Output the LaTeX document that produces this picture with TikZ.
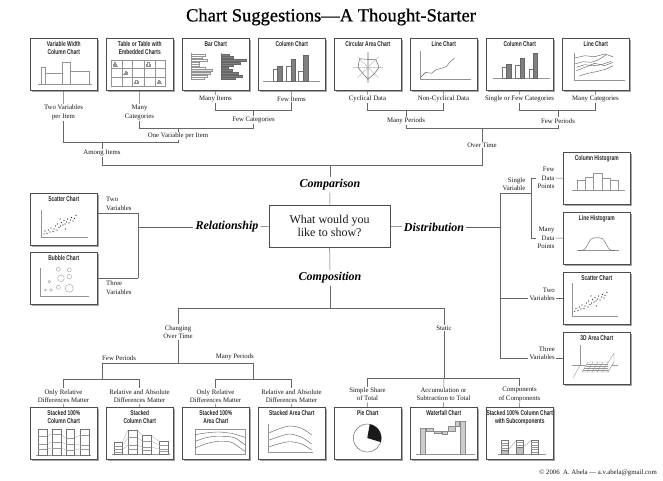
\documentclass[tikz,border=0pt]{standalone}
\usepackage{fontspec}
\setmainfont{Liberation Serif}
\newfontfamily\boxfont{Liberation Sans}[FakeStretch=0.7]
\newfontfamily\titlefont{Liberation Serif}[FakeBold=0.7]
\usetikzlibrary{calc,shadows}
\tikzset{
 chartbox/.style={draw=black!70, line width=0.6pt, fill=white, minimum width=67pt, minimum height=52pt, inner sep=0pt, anchor=north west,
   drop shadow={shadow xshift=1.8pt, shadow yshift=-1.8pt, fill=black!35, opacity=1}},
 boxtitle/.style={font=\boxfont\bfseries\fontsize{7}{7.4}\selectfont, align=center, anchor=north, inner sep=0pt, text=black!85},
 lbl/.style={font=\fontsize{6.8}{8.3}\selectfont, align=center, inner sep=1pt, text=black!90},
 big/.style={font=\bfseries\itshape\fontsize{12}{14}\selectfont, inner sep=2pt, text=black},
 qbox/.style={draw=black!70, line width=0.6pt, fill=white, minimum width=121pt, minimum height=42pt, align=center, font=\fontsize{12}{13}\selectfont, text=black!90},
 conn/.style={draw=black!60, line width=0.5pt},
 mini/.style={draw=black!42, line width=0.35pt},
 minidk/.style={draw=black!65, line width=0.4pt},
 gbar/.style={fill=black!50, draw=black!60, line width=0.3pt},
 wbar/.style={fill=white, draw=black!55, line width=0.3pt},
 dot/.style={fill=black!85},
}
\newcommand\cbox[4]{\node[chartbox] (#1) at (#2,#3) {};
  \node[boxtitle] (#1t) at ($(#1.north)+(0,3.5)$) {#4};}
\begin{document}
\begin{tikzpicture}[x=1pt,y=-1pt]
\fill[white] (0,0) rectangle (663,480);
\useasboundingbox (0,0) rectangle (663,480);

\node[font=\titlefont\fontsize{18.5}{20}\selectfont, text=black] (title) at (331,17) {Chart Suggestions—A Thought-Starter};

% ---------- top row boxes
\cbox{t1}{30}{38}{Variable Width\\Column Chart}
\cbox{t2}{106}{38}{Table or Table with\\Embedded Charts}
\cbox{t3}{182}{38}{Bar Chart}
\cbox{t4}{258}{38}{Column Chart}
\cbox{t5}{334}{38}{Circular Area Chart}
\cbox{t6}{410}{38}{Line Chart}
\cbox{t7}{486}{38}{Column Chart}
\cbox{t8}{562}{38}{Line Chart}

% t1 variable width
\begin{scope}[shift={(t1.north west)}]
\draw[mini] (8,46) -- (62,46);
\draw[mini] (10.7,46) rectangle (15,29);
\draw[mini] (15,46) rectangle (31.7,35);
\draw[mini] (31.7,46) rectangle (40,24);
\draw[mini] (40,46) rectangle (59,33);
\end{scope}
% t2 table
\begin{scope}[shift={(t2.north west)}]
\draw[mini] (5,22) rectangle (59,48.3);
\foreach \xx in {15.7,26.3,38.3,49} \draw[mini] (\xx,22) -- (\xx,48.3);
\foreach \yy in {30.3,39.3} \draw[mini] (5,\yy) -- (59,\yy);
\foreach \cx/\cy in {5/22, 15.7/30.3, 38.3/22, 26.3/39.3, 49/39.3}{
  \draw[mini] ({\cx+1.5},{\cy+6.3}) -- ({\cx+6.5},{\cy+6.3});
  \draw[mini] ({\cx+2.2},{\cy+6.3}) rectangle ({\cx+3.3},{\cy+4.6});
  \draw[mini] ({\cx+3.3},{\cy+6.3}) rectangle ({\cx+4.5},{\cy+2.6});
  \draw[mini] ({\cx+4.5},{\cy+6.3}) rectangle ({\cx+5.6},{\cy+3.9});
}
\end{scope}
% t3 bar chart
\begin{scope}[shift={(t3.north west)}]
\draw[mini] (9,15) -- (9,42);
\foreach \i/\l in {0/14.3,1/11,2/16,3/7.7,4/7.7,5/14.3,8/16,9/12.7}
  \draw[mini] (9,{16+\i*2.6}) rectangle ({9+\l},{17.9+\i*2.6});
\foreach \i/\l in {6/21,7/19.3}
  \draw[mini, fill=black!12] (9,{16+\i*2.6}) rectangle ({9+\l},{17.9+\i*2.6});
\draw[mini] (38.7,15) -- (38.7,42);
\foreach \i/\l in {0/8.3,1/12.7,2/25,3/19.3,4/12.7,5/7.7,6/11,7/17.7,8/21,9/14.3}
  \draw[gbar] (38.7,{16+\i*2.6}) rectangle ({38.7+\l},{17.9+\i*2.6});
\end{scope}
% t4 column chart
\begin{scope}[shift={(t4.north west)}]
\draw[mini] (5,42.7) -- (62,42.7);
\draw[wbar] (14.7,42.7) rectangle (19.3,31);
\draw[gbar] (19.3,42.7) rectangle (23.7,28.3);
\draw[wbar] (27.7,42.7) rectangle (32.7,28.3);
\draw[gbar] (32.7,42.7) rectangle (37,21);
\draw[wbar] (40.3,42.7) rectangle (45.3,32.7);
\draw[gbar] (45.3,42.7) rectangle (50.3,17);
\end{scope}
% t5 circular area
\begin{scope}[shift={(t5.north west)}]
\begin{scope}[shift={(34,29.3)}]
\draw[draw=black!20, line width=1.1pt] (-15,0) -- (15,0) (0,-15) -- (0,16);
\foreach \a in {45,135,225,315} \draw[draw=black!35, line width=0.35pt] (0,0) -- (\a:15);
\draw[draw=black!65, line width=0.45pt] (0:11) -- (45:9) -- (90:12) -- (135:8) -- (180:10) -- (225:12) -- (270:8) -- (315:11) -- cycle;
\end{scope}
\end{scope}
% t6 line chart
\begin{scope}[shift={(t6.north west)}]
\draw[mini] (9.7,12.7) -- (9.7,41) -- (61,41);
\draw[minidk] (11.3,38.7) -- (15.7,34.3) -- (21.3,35.3) -- (26.3,31.7) -- (31.3,30.3) -- (36.3,28.7) -- (39.7,24.3) -- (44.7,20);
\end{scope}
% t7 column chart
\begin{scope}[shift={(t7.north west)}]
\draw[mini] (7,40.3) -- (63.7,40.3);
\draw[wbar] (16,40.3) rectangle (20.3,29.3);
\draw[gbar] (20.3,40.3) rectangle (24.7,26);
\draw[wbar] (29.3,40.3) rectangle (33.7,26.7);
\draw[gbar] (33.7,40.3) rectangle (38,20);
\draw[wbar] (42.7,40.3) rectangle (47,31);
\draw[gbar] (47,40.3) rectangle (51.3,15.3);
\end{scope}
% t8 line chart many
\begin{scope}[shift={(t8.north west)}]
\draw[mini] (11.7,15) -- (11.7,42) -- (62.7,42);
\draw[minidk] (12.7,20) -- (22.7,17.7) -- (32.7,18.7) -- (42.7,16) -- (51,18.7);
\draw[minidk] (12.7,26) -- (21,23.7) -- (29.3,24.3) -- (36,22) -- (44.3,16.7);
\draw[minidk] (14.3,29.3) -- (22.7,26.7) -- (32.7,27.7) -- (39.3,26.7) -- (49.3,23.3);
\draw[minidk] (14.3,32.7) -- (24.3,28.7) -- (32.7,25.3) -- (42.7,27.7) -- (51,24.3);
\draw[minidk] (17.7,37.7) -- (26,35.3) -- (36,33.3) -- (44.3,31) -- (51,27.7);
\end{scope}

% ---------- top labels and connectors
\node[lbl] (L1) at (63.5,112.5) {Two Variables\\per Item};
\node[lbl] (L2) at (139.5,112.5) {Many\\Categories};
\node[lbl] (L3) at (215.5,99) {Many Items};
\node[lbl] (L4) at (291.5,99) {Few Items};
\node[lbl] (L5) at (253.5,120) {Few Categories};
\node[lbl] (L6) at (178,136) {One Variable per Item};
\node[lbl] (L7) at (102,153) {Among Items};
\node[lbl] (L8) at (367.5,99) {Cyclical Data};
\node[lbl] (L9) at (443.5,99) {Non-Cyclical Data};
\node[lbl] (L10) at (406,121) {Many Periods};
\node[lbl] (L11) at (519.5,99) {Single or Few Categories};
\node[lbl] (L12) at (595.5,99) {Many Categories};
\node[lbl] (L13) at (558,121) {Few Periods};
\node[lbl] (L14) at (482,145) {Over Time};

\coordinate (j1) at (63.5,142); \coordinate (j6) at (178,142); \coordinate (ja) at (102,142);
\coordinate (j5a) at (139.5,128); \coordinate (j5b) at (253.5,128); \coordinate (j5m) at (178,128);
\coordinate (j3) at (215.5,110); \coordinate (j4) at (291.5,110); \coordinate (j34) at (253.5,110);
\coordinate (j8) at (367.5,110); \coordinate (j9) at (443.5,110); \coordinate (j89) at (406,110);
\coordinate (j11) at (519.5,110); \coordinate (j12) at (595.5,110); \coordinate (j1112) at (558,110);
\coordinate (jm) at (406,128); \coordinate (jf) at (558,128); \coordinate (jo) at (482,128);
\coordinate (h1) at (102,165); \coordinate (h2) at (482,165); \coordinate (hc) at (330,165);

\draw[conn] (t1) -- (L1); \draw[conn] (t2) -- (L2); \draw[conn] (t3) -- (L3); \draw[conn] (t4) -- (L4);
\draw[conn] (t5) -- (L8); \draw[conn] (t6) -- (L9); \draw[conn] (t7) -- (L11); \draw[conn] (t8) -- (L12);
\draw[conn] (L3) -- (j3) -- (j4) -- (L4);
\draw[conn] (j34) -- (L5);
\draw[conn] (L5) -- (j5b) -- (j5a) -- (L2);
\draw[conn] (j5m) -- (L6);
\draw[conn] (L6) -- (j6) -- (j1) -- (L1);
\draw[conn] (ja) -- (L7);
\draw[conn] (L7) -- (h1) -- (h2) -- (L14);
\draw[conn] (L8) -- (j8) -- (j9) -- (L9);
\draw[conn] (j89) -- (L10);
\draw[conn] (L11) -- (j11) -- (j12) -- (L12);
\draw[conn] (j1112) -- (L13);
\draw[conn] (L10) -- (jm) -- (jf) -- (L13);
\draw[conn] (jo) -- (L14);

% ---------- centre
\node[qbox] (q) at (329.5,226) {What would you\\like to show?};
\node[big] (comp) at (330,185) {Comparison};
\node[big] (rel) at (227,227) {Relationship};
\node[big] (dist) at (434,227) {Distribution};
\node[big] (comp2) at (330,278) {Composition};
\draw[conn] (hc) -- (comp);
\draw[conn] (comp) -- (q);
\draw[conn] (q) -- (rel);
\draw[conn] (q) -- (dist);
\draw[conn] (q) -- (comp2);

% ---------- relationship
\cbox{sc}{30}{193}{Scatter Chart}
\cbox{bb}{30}{252}{Bubble Chart}
\begin{scope}[shift={(sc.north west)}]
\draw[mini] (11,16.7) -- (11,44.3) -- (57.7,44.3);
\foreach \p in {(14,41),(15,38),(17,40.5),(18.5,37),(20,39),(21,35),(23,38.5),(24,36),(25.5,33),(27,37),(27.5,31),(29,34.5),(30.5,33),(31.5,29.5),(33,32),(34,27.5),(35,31),(36.5,29),(37.5,26),(39,30),(40.5,27),(41.5,24.5),(43,28),(44.5,25.5),(46,22.5),(30,26),(35.5,36)}
  \fill[dot] \p circle (0.55pt);
\end{scope}
\begin{scope}[shift={(bb.north west)}]
\draw[mini] (10.3,16.3) -- (10.3,43.7) -- (59.3,43.7);
\draw[mini] (28.3,17.3) circle (2pt) (39.3,18) circle (2pt) (31,26.3) circle (3.3pt) (39.3,24.7) circle (2.3pt)
  (19.3,29.7) circle (1.3pt) (15.3,38) circle (1pt) (21,38) circle (1.3pt) (28.3,35.3) circle (2pt) (39.3,36.3) circle (4pt);
\end{scope}
\node[lbl, align=left, anchor=south west] (rv2) at (105,211.5) {Two\\Variables};
\node[lbl, align=left, anchor=north west] (rv3) at (105,280) {Three\\Variables};
\coordinate (r0) at (138,227); \coordinate (r1) at (138,213); \coordinate (r2) at (138,278);
\draw[conn] (rel) -- (r0);
\draw[conn] (r1) -- (r2);
\draw[conn] (r1) -- (r1 -| sc.east);
\draw[conn] (r2) -- (r2 -| bb.east);

% ---------- distribution
\cbox{ch}{563}{152}{Column Histogram}
\cbox{lh}{563}{212}{Line Histogram}
\cbox{sr}{563}{272}{Scatter Chart}
\cbox{ar}{563}{332}{3D Area Chart}
\begin{scope}[shift={(ch.north west)}]
\draw[mini] (8.7,38.3) -- (62,38.3);
\draw[mini] (13.7,38.3) rectangle (22,28.3);
\draw[mini] (22,38.3) rectangle (30.3,25);
\draw[mini] (30.3,38.3) rectangle (38.7,21);
\draw[mini] (38.7,38.3) rectangle (47,25.7);
\draw[mini] (47,38.3) rectangle (55.3,28.3);
\end{scope}
\begin{scope}[shift={(lh.north west)}]
\draw[mini] (13.7,38.3) -- (56,38.3);
\draw[minidk] plot[domain=16:52, samples=50, smooth] (\x, {38.3 - 12.5*exp(-((\x-34)/10)*((\x-34)/10)*((\x-34)/10)*((\x-34)/10))});
\end{scope}
\begin{scope}[shift={(sr.north west)}]
\draw[mini] (9.3,11) -- (9.3,44.3) -- (55.3,44.3);
\foreach \p in {(11.7,39.3),(13,36.5),(15,38.5),(16.5,35),(18,37),(19,33),(21,36.5),(22,34),(23.5,31),(25,35),(25.5,29),(27,32.5),(28.5,31),(29.5,27.5),(31,30),(32,25.5),(33,29),(34.5,27),(35.5,24),(37,28),(38.5,25),(39.5,22.5),(41,26),(42,23.5),(44,20.5),(28,24),(33.5,34)}
  \fill[dot] \p circle (0.55pt);
\end{scope}
\begin{scope}[shift={(ar.north west)}]
\draw[mini] (8.7,33.3) -- (55.3,33.3);
\draw[mini] (17,13.3) -- (17,33.3);
\draw[mini] (10,46) -- (17,33.3);
\draw[mini, fill=white] (19,40) -- (45,40) -- (51,30) -- (25,30) -- cycle;
\foreach \t in {0.2,0.4,0.6,0.8} \draw[mini] ({19+6*\t},{40-10*\t}) -- ({45+6*\t},{40-10*\t});
\foreach \s in {5,10,15,20} \draw[mini] ({19+\s},40) -- ({25+\s},30);
\draw[mini, fill=white] (45,40) -- (51,30) -- (51,21) -- (45,31) -- cycle;
\end{scope}
\node[lbl, align=right] (sv) at (514,184) {Single\\Variable};
\node[lbl, align=right] (FD) at (546,178) {Few\\Data\\Points};
\node[lbl, align=right] (MD) at (546,238) {Many\\Data\\Points};
\node[lbl, align=right, anchor=east] (TV) at (556,294.5) {Two\\Variables};
\node[lbl, align=right, anchor=east] (HV) at (556,353.5) {Three\\Variables};
\coordinate (d0) at (500,227); \coordinate (dt) at (500,193); \coordinate (db) at (500,358);
\coordinate (dv) at (531,193); \coordinate (dv1) at (531,178); \coordinate (dv2) at (531,238);
\coordinate (d2) at (500,298);
\draw[conn] (dist) -- (d0);
\draw[conn] (dt) -- (db);
\draw[conn] (dt) -- (dv);
\draw[conn] (dv1) -- (dv2);
\draw[conn] (dv1) -- (FD);
\draw[conn] (FD) -- (ch);
\draw[conn] (dv2) -- (MD);
\draw[conn] (MD) -- (lh);
\draw[conn] (d2) -- (d2 -| TV.west);
\draw[conn] (TV.east |- d2) -- (sr.west |- d2);
\draw[conn] (db) -- (db -| HV.west);
\draw[conn] (HV.east |- db) -- (ar.west |- db);

% ---------- composition
\cbox{b1}{30}{407}{Stacked 100\%\\Column Chart}
\cbox{b2}{106}{407}{Stacked\\Column Chart}
\cbox{b3}{182}{407}{Stacked 100\%\\Area Chart}
\cbox{b4}{258}{407}{Stacked Area Chart}
\cbox{b5}{334}{407}{Pie Chart}
\cbox{b6}{410}{407}{Waterfall Chart}
\cbox{b7}{486}{407}{Stacked 100\% Column Chart\\with Subcomponents}

\begin{scope}[shift={(b1.north west)}]
\draw[mini] (6,47.7) -- (61,47.7);
\draw[mini, draw=black!30] (16.7,29) -- (22.3,27) (16.7,37) -- (22.3,35) (16.7,42) -- (22.3,41);
\draw[mini, draw=black!30] (31,27) -- (35.7,31) (31,35) -- (35.7,37) (31,41) -- (35.7,43);
\draw[mini, draw=black!30] (44.3,31) -- (50,28) (44.3,37) -- (50,38) (44.3,43) -- (50,42);
\foreach \xa/\xb/\ya/\yb/\yc in {8.3/16.7/29/37/42, 22.3/31/27/35/41, 35.7/44.3/31/37/43, 50/59/28/38/42}{
  \draw[draw=black!55, line width=0.35pt] (\xa,22) rectangle (\xb,47.7);
  \draw[draw=black!40, line width=0.3pt] (\xa,\ya) -- (\xb,\ya) (\xa,\yb) -- (\xb,\yb) (\xa,\yc) -- (\xb,\yc);
}
\end{scope}
\begin{scope}[shift={(b2.north west)}]
\draw[mini] (6,46.7) -- (64,46.7);
\draw[mini, draw=black!30] (16.3,35.3) -- (22.3,22.7) (16.3,39) -- (22.3,30) (16.3,42.5) -- (22.3,38);
\draw[mini, draw=black!30] (30.7,22.7) -- (36.3,28.3) (30.7,30) -- (36.3,34) (30.7,38) -- (36.3,40);
\draw[mini, draw=black!30] (44.7,28.3) -- (53.3,34.3) (44.7,34) -- (53.3,38) (44.7,40) -- (53.3,42);
\foreach \xa/\xb/\yt/\ya/\yb/\yc in {8.3/16.3/35.3/39/42.5/44.8, 22.3/30.7/22.7/30/38/42.5, 36.3/44.7/28.3/34/40/43.5, 53.3/62/34.3/38/42/44.5}{
  \draw[draw=black!55, line width=0.35pt] (\xa,\yt) rectangle (\xb,46.7);
  \draw[draw=black!40, line width=0.3pt] (\xa,\ya) -- (\xb,\ya) (\xa,\yb) -- (\xb,\yb) (\xa,\yc) -- (\xb,\yc);
}
\end{scope}
\begin{scope}[shift={(b3.north west)}]
\draw[mini] (13,22) rectangle (63,46.7);
\draw[minidk] plot[smooth] coordinates {(13,27.7) (25,25.8) (37,25) (50,26.5) (63,30.3)};
\draw[minidk] plot[smooth] coordinates {(13,34.3) (23,31) (33,29.3) (45,29.5) (53,31) (63,37.7)};
\draw[minidk] plot[smooth] coordinates {(13,41) (25,36.5) (36,34.3) (45,34.5) (51,36) (63,44.3)};
\end{scope}
\begin{scope}[shift={(b4.north west)}]
\draw[mini] (10,17) -- (10,44.7) -- (55.3,44.7);
\draw[minidk] plot[smooth] coordinates {(11.3,25.7) (22,21.5) (32,19) (43.7,21.3) (53.7,28)};
\draw[minidk] plot[smooth] coordinates {(11.3,33) (22,29.3) (32,27) (43.7,30.3) (53.7,37)};
\draw[minidk] plot[smooth] coordinates {(11.3,39.7) (22,36.5) (32,34.7) (43.7,37) (53.7,43)};
\end{scope}
\begin{scope}[shift={(b5.north west)}]
\draw[draw=black!70, line width=0.4pt, fill=white] (33.3,31) circle (14pt);
\fill[black!90] (33.3,31) -- ++(-80:14) arc[start angle=-80, end angle=17, radius=14] -- cycle;
\end{scope}
\begin{scope}[shift={(b6.north west)}]
\draw[mini] (6.3,47.3) -- (64.7,47.3);
\foreach \xa/\ya/\xb/\yb in {9.7/21/15.3/47.3, 16.3/21/23.5/23.8, 24/23.8/31/26.5, 32/24.5/37.5/27.3, 38/19.5/45/24.5, 45.5/14.5/49/19.5, 49.7/14.3/55.3/47.3}
  \draw[draw=black!45, line width=0.3pt, fill=black!20] (\xa,\ya) rectangle (\xb,\yb);
\end{scope}
\begin{scope}[shift={(b7.north west)}]
\draw[mini] (12,47) -- (60,47);
\draw[mini] (22,43.3) -- (30.3,33.3) (37,40) -- (45.3,33.3);
\draw[wbar, fill=black!25] (15.3,43.3) rectangle (22,47);
\draw[wbar] (15.3,33.3) rectangle (22,43.3);
\draw[mini] (15.3,36) -- (22,36) (15.3,38.6) -- (22,38.6) (15.3,41) -- (22,41);
\draw[wbar, fill=black!25] (30.3,40) rectangle (37,47);
\draw[wbar] (30.3,33.3) rectangle (37,40);
\draw[mini] (30.3,35.5) -- (37,35.5) (30.3,37.8) -- (37,37.8);
\draw[wbar] (45.3,33.3) rectangle (52,47);
\draw[mini] (45.3,35.5) -- (52,35.5) (45.3,37.8) -- (52,37.8) (45.3,40.2) -- (52,40.2) (45.3,42.5) -- (52,42.5) (45.3,44.8) -- (52,44.8);
\end{scope}

\node[lbl] (chg) at (178,332) {Changing\\Over Time};
\node[lbl, anchor=south west] (fp) at (101,361.5) {Few Periods};
\node[lbl, anchor=south east] (mp) at (255,361.5) {Many Periods};
\node[lbl] (st) at (444,328) {Static};
\node[lbl] (D1) at (63.5,396) {Only Relative\\Differences Matter};
\node[lbl] (D2) at (139.5,396) {Relative and Absolute\\Differences Matter};
\node[lbl] (D3) at (215.5,396) {Only Relative\\Differences Matter};
\node[lbl] (D4) at (291.5,396) {Relative and Absolute\\Differences Matter};
\node[lbl] (S1) at (367.5,394.5) {Simple Share\\of Total};
\node[lbl] (S2) at (443.5,394.5) {Accumulation or\\Subtraction to Total};
\node[lbl] (S3) at (519.5,394.5) {Components\\of Components};

\coordinate (bc) at (330,308); \coordinate (bl) at (178,308); \coordinate (br) at (444,308);
\coordinate (cm) at (178,363); \coordinate (fp0) at (102,363); \coordinate (mp0) at (253.5,363);
\coordinate (o1) at (63.5,379); \coordinate (o2) at (139.5,379); \coordinate (fpj) at (102,379);
\coordinate (o3) at (215.5,379); \coordinate (o4) at (291.5,379); \coordinate (mpj) at (253.5,379);
\coordinate (sj) at (444,378); \coordinate (s1) at (367.5,378); \coordinate (s3) at (519.5,378);

\draw[conn] (comp2) -- (bc);
\draw[conn] (bl) -- (br);
\draw[conn] (bl) -- (chg);
\draw[conn] (chg) -- (cm);
\draw[conn] (fp0) -- (mp0);
\draw[conn] (fp0) -- (fpj);
\draw[conn] (mp0) -- (mpj);
\draw[conn] (o1) -- (o2);
\draw[conn] (o3) -- (o4);
\draw[conn] (o1) -- (D1); \draw[conn] (o2) -- (D2); \draw[conn] (o3) -- (D3); \draw[conn] (o4) -- (D4);
\draw[conn] (D1) -- (b1); \draw[conn] (D2) -- (b2); \draw[conn] (D3) -- (b3); \draw[conn] (D4) -- (b4);
\draw[conn] (br) -- (st);
\draw[conn] (st) -- (sj);
\draw[conn] (s1) -- (s3);
\draw[conn] (s1) -- (S1); \draw[conn] (sj) -- (S2); \draw[conn] (s3) -- (S3);
\draw[conn] (S1) -- (b5); \draw[conn] (S2) -- (b6); \draw[conn] (S3) -- (b7);

\node[lbl, anchor=east, font=\fontsize{6.8}{8}\selectfont] (copy) at (658,473) {© 2006\ \ A. Abela — a.v.abela@gmail.com};
\end{tikzpicture}
\end{document}
